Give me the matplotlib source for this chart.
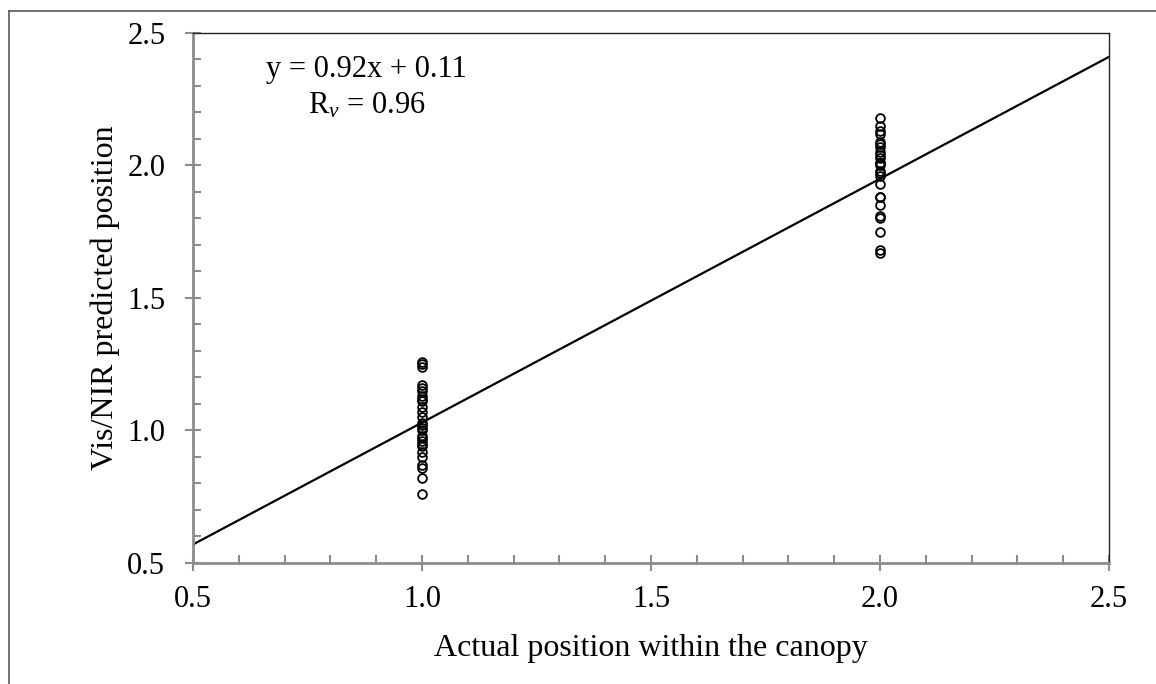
import numpy as np
import matplotlib.pyplot as plt
from matplotlib.lines import Line2D
from matplotlib.ticker import MultipleLocator, FormatStrFormatter

plt.rcParams['font.family'] = ['Liberation Serif', 'DejaVu Serif']
plt.rcParams['mathtext.fontset'] = 'custom'
plt.rcParams['mathtext.rm'] = 'Liberation Serif'
plt.rcParams['mathtext.it'] = 'Liberation Serif:italic'

# measured vs predicted canopy position
pos_low = [1.26, 1.25, 1.24, 1.17, 1.16, 1.15, 1.13, 1.12, 1.11, 1.09, 1.07,
           1.05, 1.03, 1.02, 1.01, 1.00, 0.98, 0.97, 0.96, 0.95, 0.94, 0.92,
           0.90, 0.87, 0.86, 0.82, 0.76]
pos_high = [2.18, 2.15, 2.13, 2.12, 2.09, 2.08, 2.07, 2.05, 2.04, 2.03, 2.01,
            2.01, 2.00, 1.98, 1.97, 1.96, 1.93, 1.88, 1.88, 1.85, 1.81, 1.80,
            1.75, 1.68, 1.67]
slope = 0.92
intercept = 0.11
r_v = 0.96

fig = plt.figure(figsize=(11.56, 6.84), dpi=100)
ax = fig.add_axes([0.1670, 0.1769, 0.7924, 0.7749])

x_obs = [1.0] * len(pos_low) + [2.0] * len(pos_high)
y_pred = pos_low + pos_high
ax.plot(x_obs, y_pred, linestyle='none', marker='o', markersize=6.3,
        markerfacecolor='none', markeredgecolor='black', markeredgewidth=1.3,
        zorder=3)

xl = np.array([0.5, 2.5])
ax.plot(xl, slope * xl + intercept, color='black', linewidth=1.6, zorder=2)

ax.set_xlim(0.5, 2.5)
ax.set_ylim(0.5, 2.5)
ax.xaxis.set_major_locator(MultipleLocator(0.5))
ax.yaxis.set_major_locator(MultipleLocator(0.5))
ax.xaxis.set_minor_locator(MultipleLocator(0.1))
ax.yaxis.set_minor_locator(MultipleLocator(0.1))
ax.xaxis.set_major_formatter(FormatStrFormatter('%.1f'))
ax.yaxis.set_major_formatter(FormatStrFormatter('%.1f'))

axis_grey = '#8c8c8c'
for side in ['left', 'bottom']:
    ax.spines[side].set_color(axis_grey)
    ax.spines[side].set_linewidth(2.0)
for side in ['top', 'right']:
    ax.spines[side].set_color('#222222')
    ax.spines[side].set_linewidth(1.0)

ax.tick_params(which='major', direction='inout', length=12, width=1.5,
               color=axis_grey, labelsize=22)
ax.tick_params(which='minor', direction='in', length=5.5, width=1.5,
               color=axis_grey)
ax.tick_params(axis='y', which='major', pad=14)
ax.tick_params(axis='x', which='major', pad=10)

ax.set_xlabel('Actual position within the canopy', fontsize=23, labelpad=14)
ax.set_ylabel('Vis/NIR predicted position', fontsize=23)
ax.yaxis.set_label_coords(-0.080, 0.5)

ax.text(0.189, 0.917, f'y = {slope:.2f}x + {intercept:.2f}', transform=ax.transAxes,
        ha='center', va='baseline', fontsize=22)
ax.text(0.19, 0.849, r'R$_{v}$ = ' + f'{r_v:.2f}', transform=ax.transAxes,
        ha='center', va='baseline', fontsize=22)

# chart area frame
frame_col = '#595959'
fig.add_artist(Line2D([8.5 / 1156, 8.5 / 1156], [0, 1 - 10.5 / 684],
                      transform=fig.transFigure, color=frame_col, linewidth=1.2))
fig.add_artist(Line2D([8.5 / 1156, 1], [1 - 10.5 / 684, 1 - 10.5 / 684],
                      transform=fig.transFigure, color=frame_col, linewidth=1.2))

fig.savefig('out.png', dpi=100)
